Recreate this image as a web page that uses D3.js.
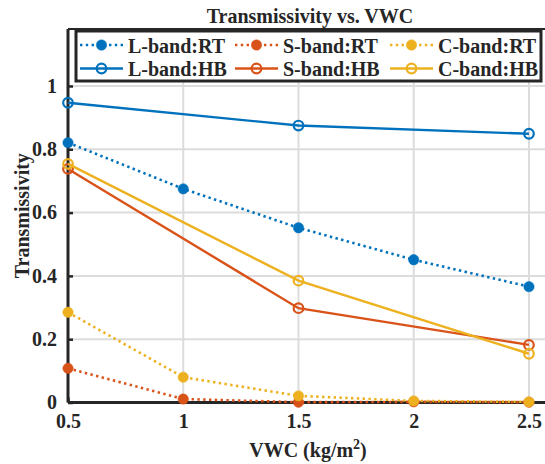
<!DOCTYPE html>
<html>
<head>
<meta charset="utf-8">
<script src="https://cdn.jsdelivr.net/npm/d3@7"></script>
<style>
  html, body { margin: 0; padding: 0; background: #fff; }
  svg { display: block; }
  text { font-family: "Liberation Serif", "Times New Roman", serif; font-weight: bold; fill: #262626; }
</style>
</head>
<body>
<svg id="chart" width="545" height="464"></svg>
<script>
// Water content samples (kg/m^2)
const vwcRT = [0.5, 1.0, 1.5, 2.0, 2.5];
const vwcHB = [0.5, 1.5, 2.5];

// Transmissivity per band: RT model (dotted) and HB model (solid)
const lbandRT = [0.821, 0.675, 0.552, 0.451, 0.366];
const sbandRT = [0.108, 0.011, 0.001, 0.002, 0.001];
const cbandRT = [0.285, 0.080, 0.021, 0.005, 0.002];
const lbandHB = [0.947, 0.875, 0.849];
const sbandHB = [0.738, 0.298, 0.182];
const cbandHB = [0.754, 0.385, 0.154];

const xTicks = [0.5, 1, 1.5, 2, 2.5];
const yTicks = [0, 0.2, 0.4, 0.6, 0.8, 1];

const colors = { L: "#0072BD", S: "#D95319", C: "#EDB120" };

const series = [
  { name: "L-band:RT", x: vwcRT, y: lbandRT, color: colors.L, dotted: true },
  { name: "S-band:RT", x: vwcRT, y: sbandRT, color: colors.S, dotted: true },
  { name: "C-band:RT", x: vwcRT, y: cbandRT, color: colors.C, dotted: true },
  { name: "L-band:HB", x: vwcHB, y: lbandHB, color: colors.L, dotted: false },
  { name: "S-band:HB", x: vwcHB, y: sbandHB, color: colors.S, dotted: false },
  { name: "C-band:HB", x: vwcHB, y: cbandHB, color: colors.C, dotted: false }
];

(function draw() {
  const svg = d3.select("#chart");
  const pl = 68, pr = 552, pt = 29, pb = 402.5;
  const axisColor = "#262626";

  const x = d3.scaleLinear().domain([0.5, 2.6]).range([pl, pr]);
  const y = d3.scaleLinear().domain([0, 1.18]).range([pb, pt]);

  // Grid
  const grid = svg.append("g");
  grid.selectAll(".gx").data(xTicks).join("line")
    .attr("x1", d => x(d)).attr("x2", d => x(d))
    .attr("y1", pt).attr("y2", pb)
    .attr("stroke", "#dcdcdc").attr("stroke-width", 2);
  grid.selectAll(".gy").data(yTicks).join("line")
    .attr("x1", pl).attr("x2", pr)
    .attr("y1", d => y(d)).attr("y2", d => y(d))
    .attr("stroke", "#dcdcdc").attr("stroke-width", 2);

  // Axes (ticks point inward)
  const xAxis = d3.axisBottom(x).tickValues(xTicks).tickSize(-5).tickPadding(11)
    .tickFormat(d3.format("~g"));
  const yAxis = d3.axisLeft(y).tickValues(yTicks).tickSize(-5).tickPadding(11)
    .tickFormat(d3.format("~g"));

  const gx = svg.append("g").attr("transform", `translate(0,${pb})`).call(xAxis);
  const gy = svg.append("g").attr("transform", `translate(${pl},0)`).call(yAxis);
  [gx, gy].forEach(g => {
    g.select(".domain").remove();
    g.selectAll(".tick line").attr("stroke", axisColor).attr("stroke-width", 2.5);
    g.selectAll(".tick text").attr("fill", axisColor)
      .style("font-size", "20px").style("font-family", "Liberation Serif, serif")
      .style("font-weight", "bold");
  });
  gx.selectAll(".tick text").attr("dy", "0.71em");

  svg.append("line").attr("x1", pl).attr("x2", pr).attr("y1", pb).attr("y2", pb)
    .attr("stroke", axisColor).attr("stroke-width", 3);
  svg.append("line").attr("x1", pl).attr("x2", pl).attr("y1", pt).attr("y2", pb)
    .attr("stroke", axisColor).attr("stroke-width", 3);
  svg.append("line").attr("x1", pl).attr("x2", pr).attr("y1", pt).attr("y2", pt)
    .attr("stroke", axisColor).attr("stroke-width", 2);

  // Series lines and markers
  const line = d3.line().x(d => x(d[0])).y(d => y(d[1]));
  const plot = svg.append("g");
  series.forEach(s => {
    const pts = s.x.map((v, i) => [v, s.y[i]]);
    plot.append("path").datum(pts)
      .attr("d", line)
      .attr("fill", "none")
      .attr("stroke", s.color)
      .attr("stroke-width", s.dotted ? 2.6 : 2.4)
      .attr("stroke-dasharray", s.dotted ? "2.4,3.4" : null);
    plot.selectAll(null).data(pts).join("circle")
      .attr("cx", d => x(d[0])).attr("cy", d => y(d[1]))
      .attr("r", s.dotted ? 5.2 : 4.8)
      .attr("fill", s.dotted ? s.color : "none")
      .attr("stroke", s.color)
      .attr("stroke-width", s.dotted ? 0.5 : 2.2);
  });

  // Title
  svg.append("text").attr("x", 310).attr("y", 23).attr("text-anchor", "middle")
    .style("font-size", "20px").text("Transmissivity vs. VWC");

  // Axis labels
  const xl = svg.append("text").attr("x", 308).attr("y", 457).attr("text-anchor", "middle")
    .style("font-size", "20px");
  xl.append("tspan").text("VWC (kg/m");
  xl.append("tspan").attr("dy", -8).style("font-size", "14px").text("2");
  xl.append("tspan").attr("dy", 8).text(")");

  svg.append("text").attr("transform", `translate(29,${(pt + pb) / 2}) rotate(-90)`)
    .attr("text-anchor", "middle").style("font-size", "20px").text("Transmissivity");

  // Legend
  const leg = svg.append("g");
  leg.append("rect").attr("x", 76).attr("y", 31).attr("width", 465).attr("height", 50)
    .attr("fill", "#fff").attr("stroke", axisColor).attr("stroke-width", 3);
  const colX = [80, 235, 390];
  const rowY = [45, 68.5];
  series.forEach((s, i) => {
    const cx = colX[i % 3], cy = rowY[Math.floor(i / 3)];
    const g = leg.append("g");
    g.append("line").attr("x1", cx).attr("x2", cx + 43).attr("y1", cy).attr("y2", cy)
      .attr("stroke", s.color).attr("stroke-width", s.dotted ? 2.6 : 2.4)
      .attr("stroke-dasharray", s.dotted ? "2.4,3.4" : null);
    g.append("circle").attr("cx", cx + 21.5).attr("cy", cy)
      .attr("r", s.dotted ? 5.2 : 4.8)
      .attr("fill", s.dotted ? s.color : "none")
      .attr("stroke", s.color).attr("stroke-width", s.dotted ? 0.5 : 2.2);
    g.append("text").attr("x", cx + 48).attr("y", cy + 7.5)
      .style("font-size", "20px").text(s.name);
  });
})();
</script>
</body>
</html>
